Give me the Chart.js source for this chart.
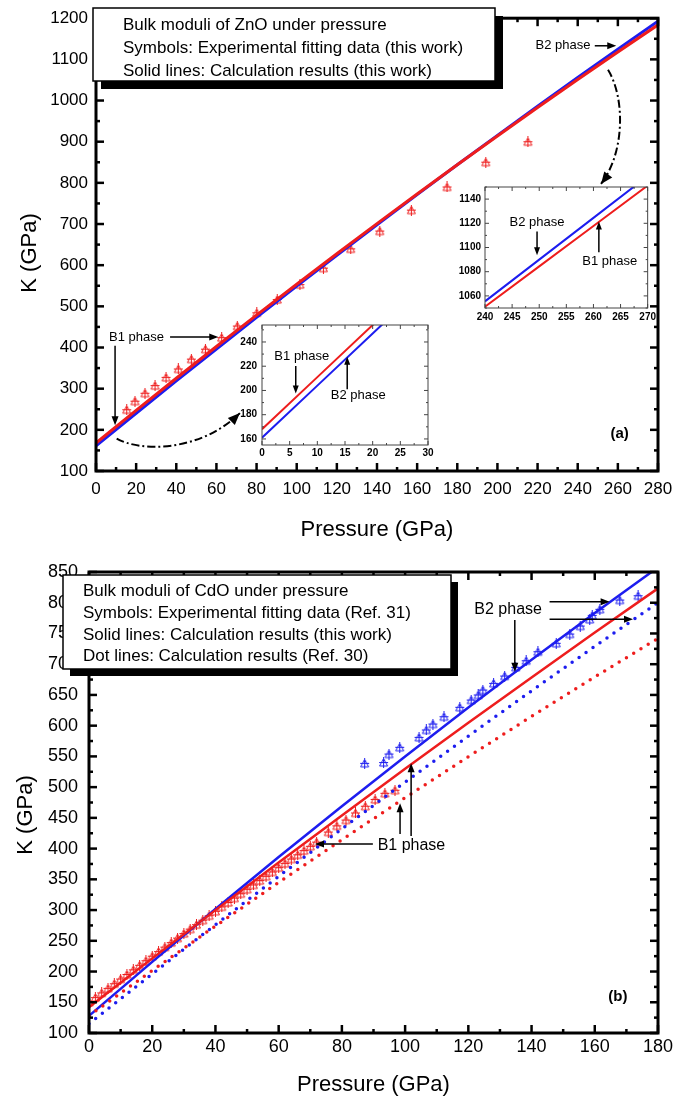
<!DOCTYPE html>
<html>
<head>
<meta charset="utf-8">
<script src="https://cdn.jsdelivr.net/npm/chart.js@4.4.0/dist/chart.umd.min.js"></script>
<style>
  body { margin: 0; background: #fff; width: 686px; height: 1101px; position: relative; overflow: hidden; }
  canvas { position: absolute; }
</style>
</head>
<body>
<canvas id="znoMain" width="686" height="550" style="left:0;top:0"></canvas>
<canvas id="znoLow" width="204" height="150" style="left:232px;top:314px"></canvas>
<canvas id="znoHigh" width="207" height="148" style="left:452px;top:177px"></canvas>
<canvas id="cdoMain" width="686" height="551" style="left:0;top:550px"></canvas>
<script>
// ---- (a) ZnO ----
const znoP = [0, 20, 40, 60, 80, 100, 120, 140, 160, 180, 200, 220, 240, 260, 280];
const znoB1Calc = [168, 247.2, 325.4, 402.4, 478.6, 553.7, 627.8, 700.9, 772.9, 844, 914, 983, 1051, 1117.9, 1183.9];
const znoB2Calc = [161, 240.3, 318.8, 396.4, 473.1, 549, 624, 698.1, 771.5, 843.8, 915.4, 986.1, 1055.9, 1124.9, 1192.9];
const znoExpP = [15.3, 19.4, 24.4, 29.4, 34.9, 41, 47.5, 54.5, 62.6, 70.4, 80.1, 90.3, 101.6, 113.3, 126.9, 141.4, 157.1, 174.9, 194.2, 215.2];
const znoExpK = [248.9, 269.6, 288.9, 307.5, 327.5, 347.8, 371.9, 396, 424, 452.2, 484.3, 516.6, 552.8, 592.9, 639.7, 683, 733.8, 790, 850.3, 900];

// insets of (a)
const lowP = [0, 10, 20, 30];
const lowB1 = [168, 211, 254, 297];
const lowB2 = [161, 204, 247, 290];
const lowXTicks = [0, 5, 10, 15, 20, 25, 30];
const lowYTicks = [160, 180, 200, 220, 240];

const highP = [240, 250, 260, 270];
const highB1 = [1051, 1084.4, 1117.8, 1151.2];
const highB2 = [1055.5, 1090, 1124.5, 1159];
const highXTicks = [240, 245, 250, 255, 260, 265, 270];
const highYTicks = [1060, 1080, 1100, 1120, 1140];

// ---- (b) CdO ----
const cdoP = [0, 20, 40, 60, 80, 100, 120, 140, 160, 180];
const cdoB1Calc = [142, 221.4, 299.9, 377.5, 454, 529.8, 604.6, 678.5, 751.5, 823.4];
const cdoB2Calc = [128, 215.7, 301.8, 386.2, 468.9, 550, 629.4, 707.1, 783.3, 857.6];
const cdoB1Ref = [128, 201.6, 274, 344.9, 414.5, 482.7, 549.5, 615.1, 679.2, 742];
const cdoB2Ref = [115, 196.2, 276.2, 354.8, 432.2, 508.3, 583.1, 656.7, 729, 800.1];
const cdoB1ExpP = [0, 2, 4, 6, 8, 10, 12, 14, 16, 18, 20, 22, 24, 26, 28, 30, 32, 34, 36, 38, 40, 42, 44, 46, 48, 50,
  52, 54, 56, 58, 60, 62, 64, 66, 68, 70, 72, 75.7, 78.4, 81.3, 84.3, 87.4, 90.5, 93.6, 96.8];
const cdoB1ExpK = [150, 157.6, 165.2, 172.7, 180.2, 187.8, 195.2, 202.7, 210.2, 217.6, 225, 232.4, 239.8, 247.1, 254.4,
  261.8, 269, 276.3, 283.6, 290.8, 298, 305.2, 312.4, 319.5, 326.6, 333.8, 340.8, 347.9, 355, 362, 369, 376, 383, 389.9,
  396.8, 403.8, 410.6, 427, 437, 446.5, 458, 469, 480, 490, 495];
const cdoB2ExpP = [87.2, 93.2, 94.9, 98.3, 104.4, 106.7, 108.8, 112.3, 117.3, 120.9, 123.1, 124.6, 128, 131.5, 135,
  138.3, 142, 147.8, 152.1, 155.4, 158.4, 159.2, 161.6, 167.9, 173.7];
const cdoB2ExpK = [538.7, 540, 553.9, 564.8, 581, 593, 602.7, 614.6, 629.9, 641.7, 649.9, 658, 668.9, 680.8, 694.9,
  705.7, 720.3, 734, 749.1, 762.1, 773, 779.5, 789.3, 804.4, 811.4];

const znoNotes = ['Bulk moduli of ZnO under pressure', 'Symbols: Experimental fitting data (this work)', 'Solid lines: Calculation results (this work)'];
const cdoNotes = ['Bulk moduli of CdO under pressure', 'Symbols: Experimental fitting data (Ref. 31)', 'Solid lines: Calculation results (this work)', 'Dot lines: Calculation results (Ref. 30)'];

const RED = '#ee1d1d';
const BLUE = '#1d1def';
const FONT = '"Liberation Sans", Arial, Helvetica, sans-serif';
Chart.defaults.font.family = FONT;
Chart.defaults.color = '#000';

function line(ctx, x1, y1, x2, y2) {
  ctx.beginPath(); ctx.moveTo(x1, y1); ctx.lineTo(x2, y2); ctx.stroke();
}

function head(ctx, x, y, ang, len, half) {
  const c = Math.cos(ang), s = Math.sin(ang);
  ctx.beginPath();
  ctx.moveTo(x, y);
  ctx.lineTo(x - len * c + half * s, y - len * s - half * c);
  ctx.lineTo(x - len * c - half * s, y - len * s + half * c);
  ctx.closePath(); ctx.fill();
}

function arrow(ctx, a, b, len = 9, half = 3.5) {
  const ang = Math.atan2(b[1] - a[1], b[0] - a[0]);
  line(ctx, a[0], a[1], b[0] - (len - 1) * Math.cos(ang), b[1] - (len - 1) * Math.sin(ang));
  head(ctx, b[0], b[1], ang, len, half);
}

// dash-dot curved pointer
function curveArrow(ctx, s, c1, c2, e) {
  ctx.save();
  ctx.lineWidth = 2;
  ctx.setLineDash([8, 3, 2, 3]);
  ctx.beginPath(); ctx.moveTo(s[0], s[1]); ctx.bezierCurveTo(c1[0], c1[1], c2[0], c2[1], e[0], e[1]); ctx.stroke();
  ctx.restore();
  head(ctx, e[0], e[1], Math.atan2(e[1] - c2[1], e[0] - c2[0]), 12, 5);
}

function label(ctx, text, p, size, weight) {
  ctx.font = (weight || 'normal') + ' ' + size + 'px ' + FONT;
  ctx.textAlign = 'center'; ctx.textBaseline = 'middle';
  ctx.fillText(text, p[0], p[1]);
}

function noteBox(ctx, x, y, w, h, shadow, lines, size, first, gap, padX) {
  ctx.fillStyle = '#000'; ctx.fillRect(x + shadow, y + shadow, w, h);
  ctx.fillStyle = '#fff'; ctx.fillRect(x, y, w, h);
  ctx.lineWidth = 1.5; ctx.strokeStyle = '#000'; ctx.strokeRect(x, y, w, h);
  ctx.fillStyle = '#000'; ctx.font = size + 'px ' + FONT;
  ctx.textAlign = 'left'; ctx.textBaseline = 'middle';
  lines.forEach((t, i) => ctx.fillText(t, x + padX, first + i * gap));
}

function axisTitles(ctx, xt, yt, size) {
  ctx.fillStyle = '#000'; ctx.font = size + 'px ' + FONT;
  ctx.textAlign = 'center'; ctx.textBaseline = 'middle';
  ctx.fillText('Pressure (GPa)', xt[0], xt[1]);
  ctx.save(); ctx.translate(yt[0], yt[1]); ctx.rotate(-Math.PI / 2);
  ctx.fillText('K (GPa)', 0, 0); ctx.restore();
}

// inward ticks on all four sides, frame, then annotations
function frame(o) {
  return {
    id: 'frame',
    beforeDatasetsDraw(chart) {
      if (!o.fill) return;
      const a = chart.chartArea;
      chart.ctx.save(); chart.ctx.fillStyle = '#fff';
      chart.ctx.fillRect(a.left, a.top, a.width, a.height); chart.ctx.restore();
    },
    afterDraw(chart) {
      const { ctx, chartArea: a, scales: { x, y } } = chart;
      ctx.save();
      ctx.strokeStyle = o.color; ctx.lineWidth = o.tickWidth;
      const marks = (scale, minor, major, fn) => {
        for (let v = Math.ceil(scale.min / minor - 1e-9) * minor; v <= scale.max + 1e-9; v += minor) {
          const r = v / major;
          fn(scale.getPixelForValue(v), Math.abs(r - Math.round(r)) < 1e-6 ? o.major : o.minor);
        }
      };
      marks(x, o.xMinor, o.xMajor, (p, l) => { line(ctx, p, a.bottom, p, a.bottom - l); line(ctx, p, a.top, p, a.top + l); });
      marks(y, o.yMinor, o.yMajor, (p, l) => { line(ctx, a.left, p, a.left + l, p); line(ctx, a.right, p, a.right - l, p); });
      ctx.lineWidth = o.frameWidth;
      ctx.strokeRect(a.left, a.top, a.width, a.height);
      ctx.fillStyle = '#000'; ctx.strokeStyle = '#000'; ctx.lineWidth = o.arrowWidth;
      if (o.extra) o.extra(ctx, (xv, yv) => [x.getPixelForValue(xv), y.getPixelForValue(yv)]);
      ctx.restore();
    }
  };
}

function makeMarker(color) {
  const c = document.createElement('canvas');
  c.width = 11; c.height = 11;
  const g = c.getContext('2d');
  g.strokeStyle = color; g.lineWidth = 1;
  g.beginPath(); g.moveTo(5.5, 1.5); g.lineTo(9.5, 9); g.lineTo(1.5, 9); g.closePath(); g.stroke();
  g.beginPath(); g.moveTo(5.5, 0); g.lineTo(5.5, 11); g.moveTo(1, 5.5); g.lineTo(10, 5.5); g.stroke();
  return c;
}
const redMark = makeMarker(RED);
const blueMark = makeMarker(BLUE);

const pts = (xs, ys) => xs.map((v, i) => ({ x: v, y: ys[i] }));
const lineSet = (xs, ys, color, width, dash) => ({
  data: pts(xs, ys), showLine: true, borderColor: color, borderWidth: width, pointRadius: 0,
  borderDash: dash || [], borderCapStyle: dash ? 'round' : 'butt', fill: false
});
const markSet = (xs, ys, img) => ({
  data: pts(xs, ys), showLine: false, pointStyle: img, pointRadius: 5,
  backgroundColor: 'transparent', borderColor: 'transparent'
});

function makeChart(id, datasets, o) {
  const fixTicks = list => list ? (s => { s.ticks = list.map(v => ({ value: v })); }) : undefined;
  return new Chart(document.getElementById(id), {
    type: 'scatter',
    data: { datasets },
    options: {
      responsive: false, animation: false, devicePixelRatio: 1, events: [],
      layout: { padding: o.padding },
      plugins: { legend: { display: false }, tooltip: { enabled: false } },
      scales: {
        x: {
          type: 'linear', min: o.x[0], max: o.x[1],
          grid: { display: false, drawTicks: false }, border: { display: false },
          ticks: { stepSize: o.xStep, font: o.font, color: '#000', padding: o.xPad, maxRotation: 0, autoSkip: false, callback: v => v },
          afterFit: s => { s.height = o.xH; }, afterBuildTicks: fixTicks(o.xTicks)
        },
        y: {
          type: 'linear', min: o.y[0], max: o.y[1],
          grid: { display: false, drawTicks: false }, border: { display: false },
          ticks: { stepSize: o.yStep, font: o.font, color: '#000', padding: o.yPad, autoSkip: false, callback: v => v },
          afterFit: s => { s.width = o.yW; }, afterBuildTicks: fixTicks(o.yTicks)
        }
      }
    },
    plugins: [frame(o)]
  });
}

// ---- panel (a) ----
makeChart('znoMain', [
  lineSet(znoP, znoB1Calc, RED, 3),
  lineSet(znoP, znoB2Calc, BLUE, 3),
  markSet(znoExpP, znoExpK, redMark)
], {
  padding: { left: 0, top: 15, right: 28, bottom: 0 },
  x: [0, 280], xStep: 20, y: [100, 1200], yStep: 100, font: { size: 17 },
  xPad: 8, yPad: 8, xH: 79, yW: 96,
  xMinor: 10, xMajor: 20, yMinor: 50, yMajor: 100, major: 8, minor: 4,
  frameWidth: 3, tickWidth: 2.5, color: '#000', arrowWidth: 1.5,
  extra(ctx, p) {
    label(ctx, 'B2 phase', p(232.7, 1133), 13);
    arrow(ctx, p(248.5, 1133), p(259.2, 1133));
    curveArrow(ctx, p(255.1, 1074.7), p(263.6, 1007), p(263.6, 874.4), p(251.6, 797.2));
    label(ctx, 'B1 phase', p(20.2, 425.7), 13);
    arrow(ctx, p(36.9, 425.7), p(60.9, 425.7));
    arrow(ctx, p(9.5, 404), p(9.5, 211));
    curveArrow(ctx, p(10.3, 178.9), p(21.9, 145.8), p(51.8, 145.8), p(71.7, 240.6));
    label(ctx, '(a)', p(260.9, 191), 15, 'bold');
    axisTitles(ctx, [377, 530], [30, 253], 22);
    noteBox(ctx, 93, 8, 402, 73, 8, znoNotes, 17, 25, 23, 30);
  }
});

makeChart('znoLow', [
  lineSet(lowP, lowB1, RED, 2),
  lineSet(lowP, lowB2, BLUE, 2)
], {
  padding: { left: 0, top: 6, right: 8, bottom: 0 },
  x: [0, 30], xTicks: lowXTicks, y: [155, 254], yTicks: lowYTicks, font: { size: 10, weight: 'bold' },
  xPad: 2, yPad: 5, xH: 19, yW: 30,
  xMinor: 2.5, xMajor: 5, yMinor: 10, yMajor: 20, major: 4, minor: 2,
  frameWidth: 1, tickWidth: 1, color: '#444', arrowWidth: 1.5, fill: true,
  extra(ctx, p) {
    label(ctx, 'B1 phase', p(7.2, 227.8), 13);
    arrow(ctx, p(6.1, 220.1), p(6.1, 197.4), 8, 3);
    label(ctx, 'B2 phase', p(17.4, 196.2), 13);
    arrow(ctx, p(15.4, 201), p(15.4, 227.8), 8, 3);
  }
});

makeChart('znoHigh', [
  lineSet(highP, highB1, RED, 2),
  lineSet(highP, highB2, BLUE, 2)
], {
  padding: { left: 0, top: 6, right: 10, bottom: 0 },
  x: [240, 270], xTicks: highXTicks, y: [1050, 1150], yTicks: highYTicks, font: { size: 10, weight: 'bold' },
  xPad: 3, yPad: 4, xH: 17, yW: 33,
  xMinor: 2.5, xMajor: 5, yMinor: 10, yMajor: 20, major: 4, minor: 2,
  frameWidth: 1, tickWidth: 1, color: '#444', arrowWidth: 1.5, fill: true,
  extra(ctx, p) {
    label(ctx, 'B2 phase', p(249.6, 1120.4), 13);
    arrow(ctx, p(249.6, 1113.3), p(249.6, 1093.5), 8, 3);
    label(ctx, 'B1 phase', p(263, 1088.8), 13);
    arrow(ctx, p(261, 1096), p(261, 1121.4), 8, 3);
  }
});

// ---- panel (b) ----
makeChart('cdoMain', [
  lineSet(cdoP, cdoB1Ref, RED, 3.5, [0, 8.5]),
  lineSet(cdoP, cdoB2Ref, BLUE, 3.5, [0, 8.5]),
  lineSet(cdoP, cdoB1Calc, RED, 2.5),
  lineSet(cdoP, cdoB2Calc, BLUE, 2.5),
  markSet(cdoB1ExpP, cdoB1ExpK, redMark),
  markSet(cdoB2ExpP, cdoB2ExpK, blueMark)
], {
  padding: { left: 0, top: 22, right: 28, bottom: 0 },
  x: [0, 180], xStep: 20, y: [100, 850], yStep: 50, font: { size: 18 },
  xPad: 3, yPad: 11, xH: 68, yW: 89,
  xMinor: 10, xMajor: 20, yMinor: 25, yMajor: 50, major: 8, minor: 4,
  frameWidth: 3, tickWidth: 2.5, color: '#000', arrowWidth: 1.5,
  extra(ctx, p) {
    label(ctx, 'B2 phase', p(132.6, 789.3), 16);
    arrow(ctx, p(134.7, 771.9), p(134.7, 687.8));
    arrow(ctx, p(145.7, 801.7), p(164.7, 801.7));
    arrow(ctx, p(145.7, 773), p(172.1, 773));
    label(ctx, 'B1 phase', p(102, 404.7), 16);
    arrow(ctx, p(89.8, 407.5), p(71.5, 407.5));
    arrow(ctx, p(98.4, 423.7), p(98.4, 473.7));
    arrow(ctx, p(101.9, 420.5), p(101.9, 538.7));
    label(ctx, '(b)', p(167.3, 159.1), 15, 'bold');
    axisTitles(ctx, [373.5, 535], [26, 265], 22);
    noteBox(ctx, 63, 25, 388, 94, 7, cdoNotes, 17, 41.7, 21.7, 20);
  }
});
</script>
</body>
</html>
